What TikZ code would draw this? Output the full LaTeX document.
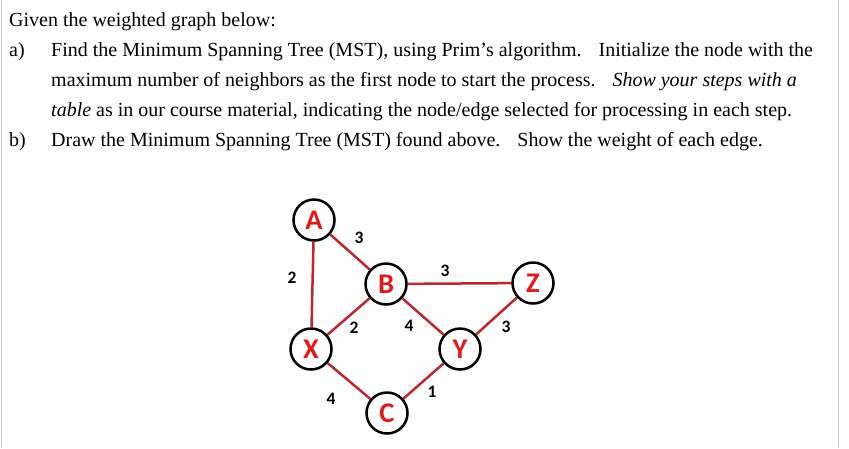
\documentclass[tikz,border=0pt]{standalone}
\usepackage{fontspec}
\setmainfont{Liberation Serif}
\newfontfamily\questfont{Liberation Serif}
\newfontfamily\nodefont{Carlito}
\usepackage{tikz}
\usetikzlibrary{positioning,shadows,backgrounds}
\definecolor{linkred}{RGB}{188,40,44}
\definecolor{letterred}{RGB}{226,26,28}
\definecolor{frame}{RGB}{205,205,205}
\tikzset{
  vtx/.style={circle,draw=black,line width=2.5pt,fill=white,minimum size=41pt,inner sep=0pt,font=\nodefont\fontsize{28.5}{28.5}\selectfont\bfseries,text=letterred,drop shadow={shadow xshift=1.2pt,shadow yshift=-1.2pt,opacity=0.3}},
  wt/.style={font=\nodefont\fontsize{17.5}{17.5}\selectfont\bfseries,inner sep=0pt},
  link/.style={draw=linkred,line width=2.5pt},
  txt/.style={anchor=base west,inner sep=0pt,font=\questfont\fontsize{20}{30}\selectfont}
}
\begin{document}
\begin{tikzpicture}[x=1pt,y=-1pt]
  \useasboundingbox (0,0) rectangle (849,448);
  \draw[frame,line width=1.5pt] (1.5,0) -- (1.5,448);
  \draw[frame,line width=1.5pt] (838.5,0) -- (838.5,448);
  % question text
  \node[txt] (given) at (9,26.7) {Given the weighted graph below:};
  \node[txt] (itema) at (9,56.7) {a)};
  \node[txt] (linea1) at (51,56.7) {Find the Minimum Spanning Tree (MST), using Prim’s algorithm.\hspace{0.85em}Initialize the node with the};
  \node[txt] (linea2) at (51,86.7) {maximum number of neighbors as the first node to start the process.\hspace{0.85em}\textit{Show your steps with a}};
  \node[txt] (linea3) at (51,116.7) {\textit{table} as in our course material, indicating the node/edge selected for processing in each step.};
  \node[txt] (itemb) at (9,146.7) {b)};
  \node[txt] (lineb1) at (51,146.7) {Draw the Minimum Spanning Tree (MST) found above.\hspace{0.85em}Show the weight of each edge.};
  % graph
  \node[vtx] (A) at (314,220) {A};
  \node[vtx] (B) at (386,284) {B};
  \node[vtx] (Z) at (533,283) {Z};
  \node[vtx] (X) at (311,349) {X};
  \node[vtx] (Y) at (460,349) {Y};
  \node[vtx] (C) at (387,413) {C};
  \begin{scope}[on background layer]
    \draw[link] (A) -- (B);
    \draw[link] (A) -- (X);
    \draw[link] (B) -- (Z);
    \draw[link] (X) -- (B);
    \draw[link] (B) -- (Y);
    \draw[link] (Z) -- (Y);
    \draw[link] (X) -- (C);
    \draw[link] (C) -- (Y);
  \end{scope}
  \node[wt] (wAB) at (359,238) {3};
  \node[wt] (wAX) at (292,278) {2};
  \node[wt] (wBZ) at (445,271) {3};
  \node[wt] (wXB) at (354,328) {2};
  \node[wt] (wBY) at (409,326) {4};
  \node[wt] (wZY) at (506,327) {3};
  \node[wt] (wXC) at (331,399) {4};
  \node[wt] (wCY) at (432,392) {1};
\end{tikzpicture}
\end{document}
